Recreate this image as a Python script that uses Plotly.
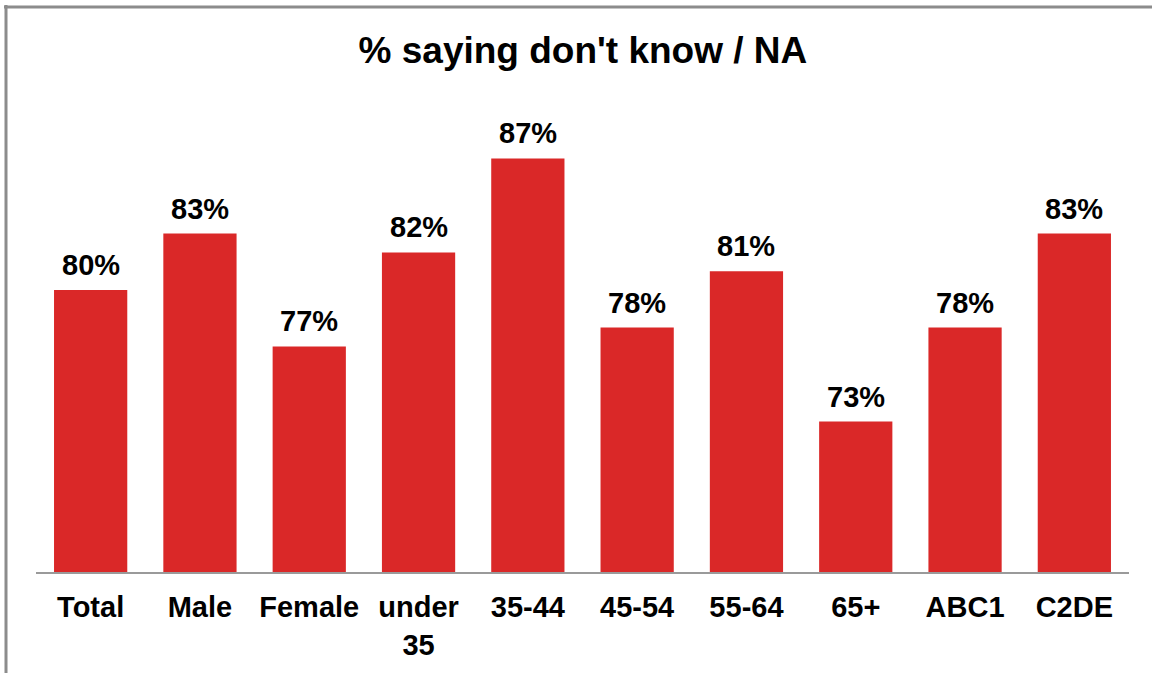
import plotly.graph_objects as go

categories = ["Total", "Male", "Female", "under<br>35", "35-44", "45-54", "55-64", "65+", "ABC1", "C2DE"]
values = [80, 83, 77, 82, 87, 78, 81, 73, 78, 83]
labels = [f"{v}%" for v in values]

W, H = 1152, 673
L, R, T, B = 36, 23, 102, 96
pw, ph = W - L - R, H - T - B
FONT = "Liberation Sans, Arial, sans-serif"

fig = go.Figure()
fig.add_trace(go.Bar(
    x=categories, y=values, marker_color="#DA2828", width=0.67,
    marker_line_width=0,
))
for c, v, t in zip(categories, values, labels):
    fig.add_annotation(x=c, y=v, text=f"<b>{t}</b>", showarrow=False,
                       yanchor="bottom", yshift=7,
                       font=dict(family=FONT, size=29, color="black"))

def px_x(p):
    return (p - L) / pw

def px_y(p):
    return (H - B - p) / ph

border = dict(color="#8C8C8C", width=3)
fig.add_shape(type="line", xref="paper", yref="paper",
              x0=px_x(6), x1=px_x(6), y0=px_y(4), y1=px_y(680), line=border)
fig.add_shape(type="line", xref="paper", yref="paper",
              x0=px_x(4), x1=px_x(1160), y0=px_y(6), y1=px_y(6), line=border)

fig.update_layout(
    width=W, height=H,
    margin=dict(l=L, r=R, t=T, b=B),
    paper_bgcolor="white", plot_bgcolor="white",
    showlegend=False,
    title=dict(text="<b>% saying don't know / NA</b>", x=0.506, xanchor="center",
               y=1 - 50 / H, yanchor="middle",
               font=dict(family=FONT, size=37, color="black")),
    xaxis=dict(showline=True, linecolor="#9A9A9A", linewidth=2,
               tickfont=dict(family=FONT, size=29, color="black"),
               ticks="", tickprefix="<b>", ticksuffix="</b>",
               ticklabelstandoff=8),
    yaxis=dict(range=[65, 90], visible=False, showgrid=False),
    bargap=0.33,
)
fig.write_html("out.html")
